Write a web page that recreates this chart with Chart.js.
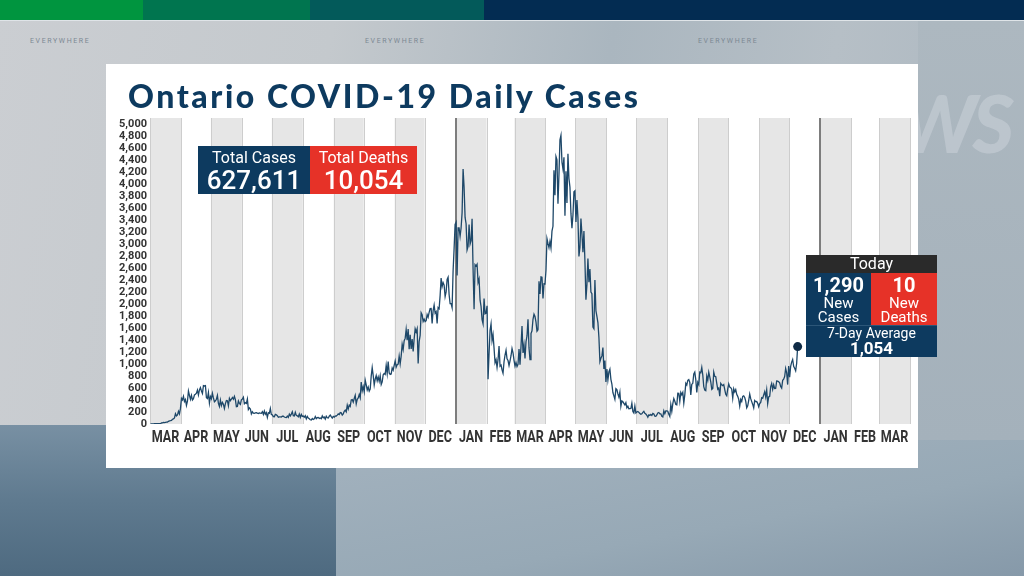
<!DOCTYPE html>
<html>
<head>
<meta charset="utf-8">
<script src="https://cdn.jsdelivr.net/npm/chart.js@4.4.1/dist/chart.umd.min.js"></script>
<style>
  html, body { margin: 0; padding: 0; }
  body { width: 1024px; height: 576px; overflow: hidden; position: relative; font-family: Roboto, "Open Sans", sans-serif;
         background: linear-gradient(100deg, #cbced2 0%, #c4c9cd 30%, #aab6bf 55%, #b6bfc6 75%, #a9b5bf 100%); }
  .stripe { position: absolute; top: 0; height: 20px; }
  .tag { position: absolute; top: 37px; font-size: 7px; letter-spacing: 1.6px; color: #7c8893; }
  #lowLeft { position: absolute; left: 0; top: 425px; width: 336px; height: 151px;
             background: linear-gradient(180deg, #7890a3 0%, #5f7a8f 50%, #4e6a80 100%); }
  #lowRight { position: absolute; left: 336px; top: 440px; width: 688px; height: 136px;
             background: linear-gradient(170deg, #a3b2be 0%, #97a9b6 60%, #8699a9 100%); }
  #rightSide { position: absolute; left: 918px; top: 21px; width: 106px; height: 420px;
             background: linear-gradient(180deg, #adb8c0 0%, #a4b1bb 100%); }
  #ghost { position: absolute; right: 14px; top: 74px; font: italic 900 80px Lato, sans-serif; color: rgba(214,221,227,0.4); letter-spacing: -4px; }
  #card { position: absolute; left: 106px; top: 64px; width: 812px; height: 404px; background: #fff; }
  #title { position: absolute; left: 128px; top: 76px; font: 900 32px Lato, sans-serif; color: #0d3a5f; white-space: nowrap; }
  #chartBox { position: absolute; left: 106px; top: 64px; width: 812px; height: 404px; }
  .box { position: absolute; color: #fff; text-align: center; }
  .navy { background: #0d3a5f; }
  .red { background: #e63228; }
</style>
</head>
<body>
<div class="stripe" style="left:0;width:143px;background:#00953f"></div>
<div class="stripe" style="left:143px;width:167px;background:#00754f"></div>
<div class="stripe" style="left:310px;width:174px;background:#035a5a"></div>
<div class="stripe" style="left:484px;width:540px;background:#032c52"></div>
<div style="position:absolute;left:0;top:20px;width:1024px;height:1px;background:#dfe4e8"></div>
<div class="tag" style="left:30px">EVERYWHERE</div>
<div class="tag" style="left:365px">EVERYWHERE</div>
<div class="tag" style="left:698px">EVERYWHERE</div>
<div id="rightSide"></div>
<div id="ghost">NEWS</div>
<div id="lowLeft"></div>
<div id="lowRight"></div>
<div id="card"></div>
<div id="chartBox"><canvas id="chart"></canvas></div>
<div id="title">Ontario COVID-19 Daily Cases</div>

<div class="box navy" style="left:198px;top:146px;width:112px;height:48px;">
  <div style="font-size:16px;line-height:18px;margin-top:3px">Total Cases</div>
  <div style="font-size:26px;line-height:26px;font-weight:500">627,611</div>
</div>
<div class="box red" style="left:310px;top:146px;width:107px;height:48px;">
  <div style="font-size:16px;line-height:18px;margin-top:3px">Total Deaths</div>
  <div style="font-size:26px;line-height:26px;font-weight:500">10,054</div>
</div>

<div class="box" style="left:806px;top:255px;width:131px;height:18px;background:#2a2a2a;font-size:16px;line-height:18px">Today</div>
<div class="box navy" style="left:806px;top:273px;width:65px;height:52px;">
  <div style="font-size:20px;line-height:22px;font-weight:700;margin-top:1px">1,290</div>
  <div style="font-size:15px;line-height:14px">New<br>Cases</div>
</div>
<div class="box red" style="left:871px;top:273px;width:66px;height:52px;">
  <div style="font-size:20px;line-height:22px;font-weight:700;margin-top:1px">10</div>
  <div style="font-size:15px;line-height:14px">New<br>Deaths</div>
</div>
<div class="box navy" style="left:806px;top:325px;width:131px;height:32px;border-top:1px solid #2c5678;box-sizing:border-box">
  <div style="font-size:14px;line-height:14px">7-Day Average</div>
  <div style="font-size:17px;line-height:16px;font-weight:700">1,054</div>
</div>

<script>
// daily new cases, Ontario, one value per day from Mar 1 2020
const mar20 = [0,0,2,2,5,4,6,6,5,4,5,17,20,27,24,28,31,32,45,52,55,60,79,85,100,170,135,151,211,168,260];
const apr20 = [426,401,462,375,408,309,379,550,478,411,478,401,421,483,494,514,565,485,567,606,551,510,640,634,640,437,424,525,347,459];
const may20 = [421,511,434,370,387,412,477,346,294,399,308,361,329,258,340,391,388,304,427,390,413,441,412,460,404,287,292,383,344,326,404];
const jun20 = [416,446,338,356,344,415,243,270,251,167,203,182,178,184,190,181,173,184,180,178,206,161,216,163,189,111,187,178,257,157];
const jul20 = [153,123,121,160,154,138,112,118,118,116,129,130,116,111,108,133,111,164,135,165,203,138,134,195,144,137,121,165,111,159,127];
const aug20 = [134,114,138,86,125,99,88,70,65,91,76,85,125,90,105,110,93,101,88,134,102,115,83,130,104,100,130,148,122,98,125];
const sep20 = [114,133,132,148,169,158,190,185,149,170,213,232,204,313,251,315,293,401,407,365,425,478,335,409,435,491,435,700,554,625];
const oct20 = [538,732,653,566,615,548,583,797,939,809,649,746,807,721,783,712,805,658,704,821,841,826,978,841,1042,851,827,834,934,896,977];
const nov20 = [1050,948,987,998,1132,1003,1132,1328,1242,1388,1426,1575,1396,1581,1248,1487,1249,1417,1210,1418,1588,1534,1589,1009,1373,1478,1855,1822,1708,1746];
const dec20 = [1707,1723,1824,1780,1859,1924,1925,1676,1890,1983,1848,1873,1677,1940,1922,2139,2432,2290,2357,2316,2123,2202,2408,2447,2159,2005,2005,1939,2553,2923,3328];
const jan21 = [3363,2476,3270,3270,3128,3266,3519,4249,3945,3443,3338,2903,2961,3326,2998,3056,3422,2578,1913,2655,2632,2662,2359,2417,2063,1958,1740,1670,2093,1837,1848];
const feb21 = [1969,745,1172,1563,1670,1388,1489,1265,1022,1072,945,1076,1300,964,981,904,847,1038,1150,1228,1087,1058,975,1054,1138,1258,1185,1062];
const mar21 = [966,1023,958,994,1250,990,1299,1631,1185,1316,1092,1371,1468,1747,1268,1074,1508,1553,1745,1829,1791,1699,1546,1571,2380,2169,2453,2448,2094,2336,2333];
const apr21 = [2557,3089,3009,2938,3041,2938,3215,3295,4227,3813,4456,4401,3670,4156,4736,4812,4362,4250,4447,3469,4212,3682,4505,4094,3947,3510,3265,3480,3871,3887];
const may21 = [3369,3732,3436,2791,2941,3424,3166,2864,3216,2716,2073,2320,2759,2362,2584,2199,2170,1616,1588,2400,1890,1794,1691,1446,1039,1095,1135,1273,916,1057,699];
const jun21 = [916,733,870,914,744,663,525,469,411,590,574,502,447,530,296,384,370,345,318,355,270,296,255,256,258,346,210,184,299,184];
const jul21 = [200,209,194,175,164,170,194,210,179,166,146,114,153,143,159,143,176,166,130,127,150,185,192,170,170,129,119,218,172,218,218];
const aug21 = [213,164,126,324,213,340,423,379,327,321,513,510,378,525,486,527,348,485,678,650,727,740,694,486,660,678,835,865,740,525,694];
const sep21 = [656,865,854,944,817,621,564,554,798,727,864,787,704,577,594,864,795,789,677,579,600,463,677,653,640,656,574,495,470,586];
const oct21 = [668,615,606,580,429,587,536,573,494,461,410,298,411,377,460,470,442,382,269,304,392,500,422,373,326,269,391,372,374,344,287];
const nov21 = [340,361,438,429,486,539,451,569,339,450,461,624,676,579,654,591,592,718,715,704,687,627,600,728,748,790,925,854,657,964];
const dec21 = [781,959,1031,1075,960,928,887,1009,1290];

const monthLabels = ['MAR','APR','MAY','JUN','JUL','AUG','SEP','OCT','NOV','DEC','JAN','FEB',
                     'MAR','APR','MAY','JUN','JUL','AUG','SEP','OCT','NOV','DEC','JAN','FEB','MAR'];
const yTicks = [0,200,400,600,800,1000,1200,1400,1600,1800,2000,2200,2400,2600,2800,3000,
                3200,3400,3600,3800,4000,4200,4400,4600,4800,5000];

const dailyCases = [].concat(mar20, apr20, may20, jun20, jul20, aug20, sep20, oct20, nov20, dec20,
  jan21, feb21, mar21, apr21, may21, jun21, jul21, aug21, sep21, oct21, nov21, dec21);

// stretch the title to the width it has in the broadcast graphic
const title = document.getElementById('title');
const gaps = title.textContent.length - 1;
title.style.letterSpacing = ((510 - title.getBoundingClientRect().width) / gaps).toFixed(2) + 'px';

// day index of every month start, Mar 2020 .. Apr 2022
const t0 = Date.UTC(2020, 2, 1);
const monthStarts = [];
for (let k = 0; k <= monthLabels.length; k++) {
  const y = 2020 + Math.floor((2 + k) / 12);
  const m = (2 + k) % 12;
  monthStarts.push(Math.round((Date.UTC(y, m, 1) - t0) / 86400000));
}
const points = dailyCases.map((v, i) => ({ x: i + 0.5, y: v }));
const lastIdx = points.length - 1;

const monthBands = {
  id: 'monthBands',
  beforeDatasetsDraw(chart) {
    const { ctx, chartArea: a, scales: { x } } = chart;
    ctx.save();
    for (let i = 0; i < monthLabels.length; i++) {
      if (i % 2 !== 0) continue;
      const x0 = x.getPixelForValue(monthStarts[i]);
      const x1 = x.getPixelForValue(monthStarts[i + 1]);
      ctx.fillStyle = '#e6e6e6';
      ctx.fillRect(x0, a.top, x1 - x0, a.bottom - a.top);
    }
    for (let i = 0; i <= monthLabels.length; i++) {
      const px = Math.round(x.getPixelForValue(monthStarts[i]));
      const newYear = i > 0 && i < monthLabels.length && monthLabels[i] === 'JAN';
      ctx.fillStyle = newYear ? '#7d7d7d' : '#cdcdcd';
      ctx.fillRect(newYear ? px - 1 : px, a.top, newYear ? 2 : 1, a.bottom - a.top);
    }
    ctx.restore();
  },
  // month names in a squeezed bold face, like the condensed type of the graphic
  afterDraw(chart) {
    const { ctx, scales: { x } } = chart;
    ctx.save();
    ctx.font = 'bold 17px Roboto, sans-serif';
    ctx.fillStyle = '#333';
    ctx.textAlign = 'center';
    ctx.textBaseline = 'alphabetic';
    monthLabels.forEach((lab, i) => {
      ctx.save();
      ctx.translate(x.getPixelForTick(i), x.top + 17.5);
      ctx.scale(0.74, 1);
      ctx.fillText(lab, 0, 0);
      ctx.restore();
    });
    ctx.restore();
  }
};

new Chart(document.getElementById('chart'), {
  type: 'line',
  data: {
    datasets: [{
      data: points,
      borderColor: '#1e4869',
      borderWidth: 1.3,
      tension: 0,
      pointRadius: ctx => ctx.dataIndex === lastIdx ? 4.5 : 0,
      pointBackgroundColor: '#0f2b46',
      pointBorderWidth: 0
    }]
  },
  options: {
    responsive: true,
    maintainAspectRatio: false,
    animation: false,
    layout: { padding: { top: 54, right: 8, left: 0, bottom: 0 } },
    plugins: { legend: { display: false }, tooltip: { enabled: false } },
    scales: {
      x: {
        type: 'linear',
        min: 0,
        max: monthStarts[monthStarts.length - 1],
        grid: { display: false, drawTicks: false },
        border: { display: false },
        afterFit(axis) { axis.height = 44; },
        afterBuildTicks(axis) {
          axis.ticks = monthLabels.map((_, i) => ({ value: (monthStarts[i] + monthStarts[i + 1]) / 2 }));
        },
        ticks: { display: false, autoSkip: false }
      },
      y: {
        min: 0,
        max: 5100,
        grid: { display: false, drawTicks: false },
        border: { display: false },
        afterFit(axis) { axis.width = 44; },
        afterBuildTicks(axis) {
          axis.ticks = yTicks.map(v => ({ value: v }));
        },
        ticks: {
          padding: 3, autoSkip: false,
          color: '#333',
          font: { family: 'Roboto, sans-serif', size: 11, weight: 'bold' },
          callback: v => v.toLocaleString('en-US')
        }
      }
    }
  },
  plugins: [monthBands]
});
</script>
</body>
</html>
